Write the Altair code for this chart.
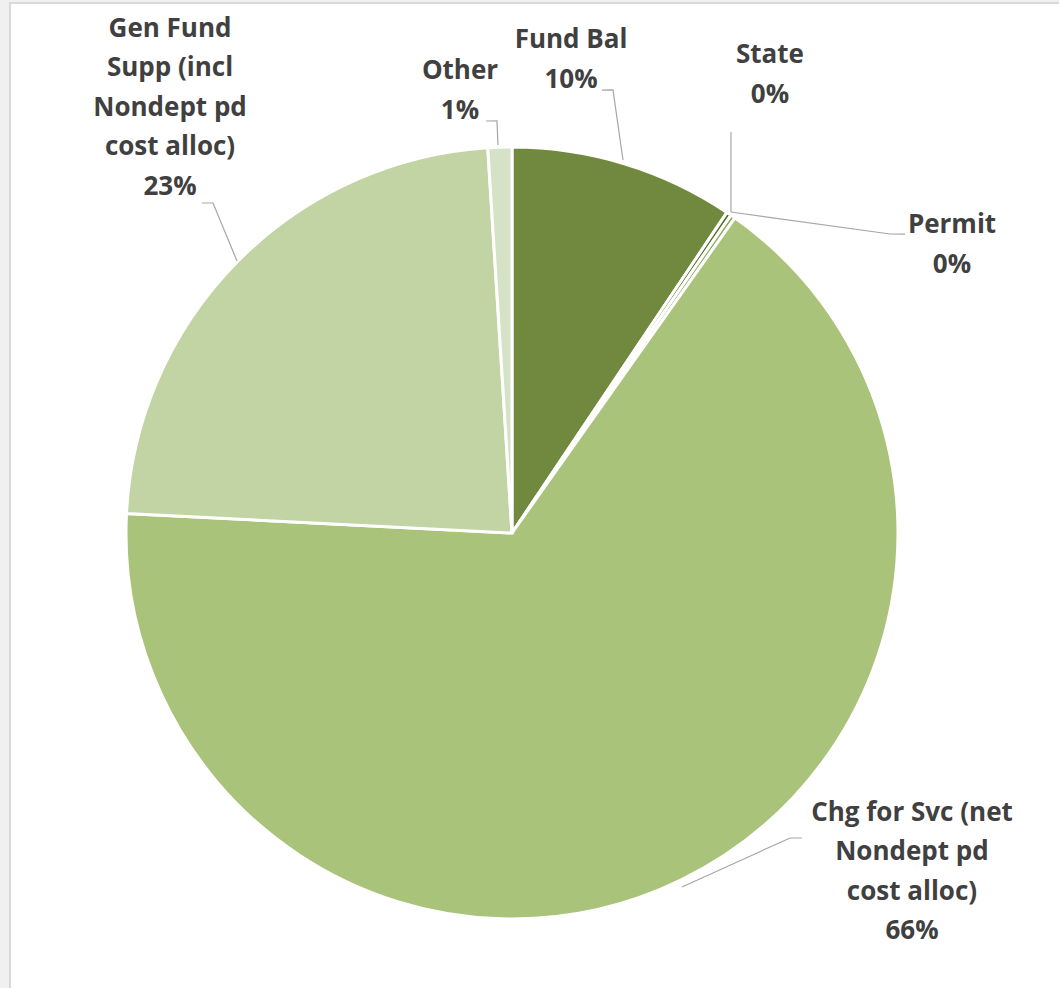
import math
import altair as alt
import pandas as pd

# ---- data ----
categories = ["Fund Bal", "State", "Permit",
              "Chg for Svc (net Nondept pd cost alloc)",
              "Gen Fund Supp (incl Nondept pd cost alloc)", "Other"]
shares = [9.4, 0.2, 0.2, 66.0, 23.2, 1.0]
pct_labels = ["10%", "0%", "0%", "66%", "23%", "1%"]
label_lines = [["Fund Bal"], ["State"], ["Permit"],
               ["Chg for Svc (net", "Nondept pd", "cost alloc)"],
               ["Gen Fund", "Supp (incl", "Nondept pd", "cost alloc)"],
               ["Other"]]

# ---- styling / layout ----
colors = ["#70893E", "#56702C", "#8CAA5C", "#A9C47A", "#C2D3A4", "#D6E2C6"]
W, H = 1059, 988
CX, CY, R = 512, 533, 386
LH = 39.5
# label placement: (angle offset from slice middle in degrees, radius px) -> block centre
label_place = [(-9.81, 476.7), (-4.81, 525.7), (21.87, 525.9),
               (-23.8, 524.3), (6.54, 545.5), (-4.91, 445.0)]
# leader line points: list of (angle offset, radius)
leader_place = [
    [(-0.35, 389.2), (-4.08, 454.4), (-5.44, 452.0)],
    [(0.10, 388.6), (-5.56, 456.9)],
    [(-0.62, 388.6), (16.74, 482.0), (17.82, 493.8)],
    [(0.27, 392.7), (-16.43, 412.7), (-17.64, 420.9)],
    [(0.05, 386.8), (3.18, 445.3), (2.15, 452.8)],
    [(-0.27, 388.3), (-0.29, 412.3), (-1.81, 412.8)],
]

total = sum(shares)
mids = []
cum = 0.0
for v in shares:
    mids.append((cum + v / 2) / total * 360.0)
    cum += v


def polar(a_deg, r):
    a = math.radians(a_deg)
    return CX + r * math.sin(a), CY - r * math.cos(a)


pie_df = pd.DataFrame({"category": categories, "share": shares,
                       "idx": list(range(len(categories)))})

lab_rows = []
for i, cat in enumerate(categories):
    off, r = label_place[i]
    x, y = polar(mids[i] + off, r)
    lines = label_lines[i] + [pct_labels[i]]
    y_first = y - (len(lines) - 1) * LH / 2
    lab_rows.append({"category": cat, "x": x, "y": y_first,
                     "text": "\n".join(lines)})
lab_df = pd.DataFrame(lab_rows)

line_rows = []
for i, cat in enumerate(categories):
    for j, (off, r) in enumerate(leader_place[i]):
        x, y = polar(mids[i] + off, r)
        line_rows.append({"category": cat, "pt": j, "x": x, "y": y})
line_df = pd.DataFrame(line_rows)

frame = alt.Chart(pd.DataFrame({"k": [0]})).mark_rect(
    fill="white", stroke="#d9d9d9", strokeWidth=2
).encode(x=alt.value(10), x2=alt.value(W + 10), y=alt.value(3), y2=alt.value(H + 10))

pie = alt.Chart(pie_df).mark_arc(outerRadius=R, stroke="white", strokeWidth=3).encode(
    theta=alt.Theta("share:Q", stack=True),
    color=alt.Color("category:N", scale=alt.Scale(domain=categories, range=colors), legend=None),
    order=alt.Order("idx:Q"),
    x=alt.value(CX),
    y=alt.value(CY),
)

leaders = alt.Chart(line_df).mark_line(color="#a6a6a6", strokeWidth=1.2).encode(
    x=alt.X("x:Q", scale=None),
    y=alt.Y("y:Q", scale=None),
    detail="category:N",
    order="pt:Q",
)

labels = alt.Chart(lab_df).mark_text(
    font="Open Sans", fontSize=26, fontWeight="bold", color="#404040",
    lineBreak="\n", lineHeight=LH, align="center", baseline="middle"
).encode(
    x=alt.X("x:Q", scale=None),
    y=alt.Y("y:Q", scale=None),
    text="text:N",
)

chart = alt.layer(frame, pie, leaders, labels).properties(
    width=W, height=H, autosize="none", padding=0, background="#f0f0f0"
).configure_view(stroke=None)

chart.save("out.html", embed_options={"renderer": "svg", "actions": False})
